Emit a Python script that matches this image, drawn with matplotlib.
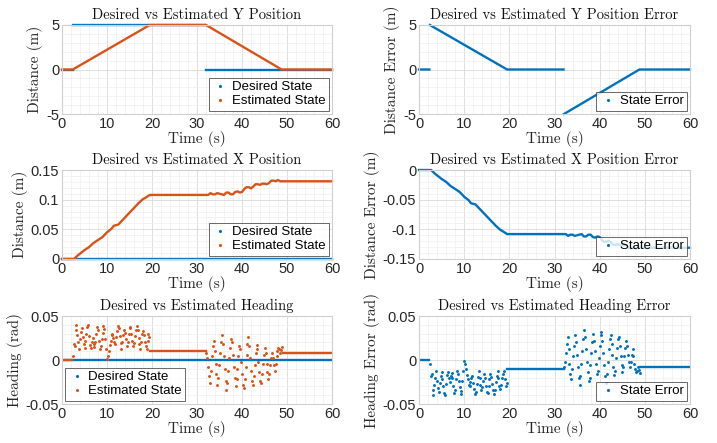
import numpy as np
import matplotlib
matplotlib.use("Agg")
import matplotlib.pyplot as plt
from matplotlib.lines import Line2D
from matplotlib.ticker import MultipleLocator, FixedLocator

plt.rcParams['axes.unicode_minus'] = False

BLUE = '#0072BD'
ORANGE = '#D95319'

# ---------------- data ----------------
# Y position (m)
y_des_t = [0, 2.4, np.nan, 2.4, 32.0, np.nan, 32.0, 60]
y_des_v = [0, 0, np.nan, 5, 5, np.nan, 0, 0]
y_est_t = [0, 2.4, 19.5, 32.0, 48.8, 60]
y_est_v = [0, 0, 5, 5, 0, 0]
y_err_t = [0, 2.3, np.nan, 2.4, 19.5, 32.0, np.nan, 32.1, 48.8, 60]
y_err_v = [0, 0, np.nan, 5, 0, 0, np.nan, -5, 0, 0]

# X position (m)
x_des_t = [0, 60]
x_des_v = [0, 0]
x_est_t = [0, 2.7, 3.5, 5, 6, 7, 8, 9, 10, 11, 11.5, 12.5, 13, 14, 15, 16, 17,
           18, 18.5, 19.5, 32, 32.5, 33, 33.5, 34, 34.5, 35, 35.5, 36, 36.5, 37,
           37.5, 38, 38.5, 39, 39.5, 40, 40.5, 41, 41.5, 42, 42.5, 43, 43.5, 44,
           44.5, 45, 45.5, 46, 46.5, 47, 47.5, 48, 48.5, 60]
x_est_v = [0, 0, 0.006, 0.015, 0.020, 0.027, 0.032, 0.037, 0.045, 0.051, 0.056,
           0.058, 0.062, 0.070, 0.078, 0.086, 0.094, 0.101, 0.103, 0.108, 0.108,
           0.108, 0.111, 0.109, 0.109, 0.111, 0.110, 0.109, 0.108, 0.112, 0.112,
           0.109, 0.109, 0.113, 0.114, 0.112, 0.113, 0.118, 0.121, 0.121, 0.119,
           0.122, 0.126, 0.126, 0.125, 0.127, 0.127, 0.126, 0.128, 0.132, 0.132,
           0.131, 0.133, 0.131, 0.131]

# Heading (rad)
h_des_t = [0, 60]
h_des_v = [0, 0]
h_flat_t = [0, 2.3, np.nan, 19.5, 32.0, np.nan, 49.0, 60]
h_flat_v = [0, 0, np.nan, 0.010, 0.010, np.nan, 0.008, 0.008]
h_seg1_start, h_seg1_end = 2.4, 19.4
h_seg1 = [0.004, 0.018, 0.016, 0.034, 0.040, 0.028, 0.020, 0.012, 0.024, 0.032,
          0.036, 0.026, 0.018, 0.014, 0.022, 0.030, 0.038, 0.040, 0.027, 0.017,
          0.014, 0.020, 0.025, 0.018, 0.015, 0.021, 0.030, 0.038, 0.034, 0.022,
          0.013, 0.016, 0.024, 0.031, 0.039, 0.035, 0.024, 0.012, 0.001, 0.004,
          0.010, 0.017, 0.022, 0.028, 0.030, 0.025, 0.021, 0.018, 0.026, 0.033,
          0.039, 0.036, 0.027, 0.019, 0.013, 0.020, 0.028, 0.034, 0.031, 0.024,
          0.016, 0.021, 0.029, 0.036, 0.038, 0.030, 0.022, 0.016, 0.019, 0.027,
          0.034, 0.039, 0.034, 0.025, 0.018, 0.012, 0.020, 0.029, 0.033, 0.028,
          0.021, 0.016, 0.012, 0.022, 0.030, 0.026]
h_seg2_start, h_seg2_end = 32.1, 48.9
h_seg2 = [0.008, 0.002, -0.008, -0.018, -0.026, -0.012, 0.004, 0.016, 0.022, 0.010,
          -0.004, -0.016, -0.028, -0.020, -0.006, 0.008, 0.020, 0.028, 0.018, 0.004,
          -0.010, -0.024, -0.034, -0.026, -0.012, 0.002, 0.014, 0.024, 0.020, 0.006,
          -0.008, -0.020, -0.030, -0.022, -0.010, 0.004, 0.016, 0.012, -0.002, -0.016,
          -0.028, -0.032, -0.022, -0.008, 0.006, 0.018, 0.026, 0.016, 0.002, -0.012,
          -0.024, -0.028, -0.018, -0.006, 0.008, 0.017, 0.012, -0.002, -0.014, -0.024,
          -0.026, -0.016, -0.004, 0.006, 0.014, 0.008, -0.004, -0.014, -0.022, -0.016,
          -0.006, 0.002, 0.008, 0.002, -0.006, -0.012, -0.004, 0.004, 0.010, 0.014,
          0.012, 0.008, 0.011, 0.015]

t1 = np.linspace(h_seg1_start, h_seg1_end, len(h_seg1))
t2 = np.linspace(h_seg2_start, h_seg2_end, len(h_seg2))

# ---------------- figure ----------------
fig = plt.figure(figsize=(7.17, 4.43), dpi=100)
W, H = 717, 443

def ax_at(l, t, r, b):
    return fig.add_axes([l / W, 1 - b / H, (r - l) / W, (b - t) / H])

TFONT = 'cmr10'
TICKF = 'Liberation Sans'

def style(ax, title, ylabel, ylim, major_y, minor_y, yticklabels=None):
    ax.set_xlim(0, 60)
    ax.set_ylim(*ylim)
    ax.xaxis.set_major_locator(MultipleLocator(10))
    ax.xaxis.set_minor_locator(MultipleLocator(2))
    ax.yaxis.set_major_locator(FixedLocator(major_y))
    ax.yaxis.set_minor_locator(MultipleLocator(minor_y))
    if yticklabels is not None:
        ax.set_yticklabels(yticklabels)
    ax.grid(which='major', color='#d9d9d9', linewidth=0.6)
    ax.grid(which='minor', color='#efefef', linewidth=0.5)
    ax.set_axisbelow(True)
    for s in ax.spines.values():
        s.set_color('#cfcfcf')
        s.set_linewidth(0.8)
    ax.tick_params(which='both', length=0, labelsize=10.5, colors='#262626', pad=2)
    for lab in ax.get_xticklabels() + ax.get_yticklabels():
        lab.set_fontfamily(TICKF)
    ax.set_title(title, fontfamily=TFONT, fontsize=10.5, pad=4, color='#111111')
    ax.set_xlabel('Time (s)', fontfamily=TFONT, fontsize=11, labelpad=0, color='#262626')
    ax.set_ylabel(ylabel, fontfamily=TFONT, fontsize=11, labelpad=2, color='#262626')

def legend(ax, labels, colors, loc):
    hs = [Line2D([], [], color=c, marker='.', markersize=2.5, linestyle='none') for c in colors]
    lg = ax.legend(hs, labels, loc=loc, prop={'family': TICKF, 'size': 9.5},
                   frameon=True, fancybox=False, borderpad=0.25, handlelength=1.2,
                   handletextpad=0.3, labelspacing=0.15, borderaxespad=0.25)
    lg.get_frame().set_edgecolor('#262626')
    lg.get_frame().set_linewidth(0.6)
    return lg

LW = 1.7

# Row 1 left: Y position
ax = ax_at(62, 25, 332, 114)
ax.plot(y_des_t, y_des_v, color=BLUE, lw=LW, clip_on=False)
ax.plot(y_est_t, y_est_v, color=ORANGE, lw=LW, clip_on=False)
style(ax, 'Desired vs Estimated Y Position', 'Distance (m)', (-5, 5), [-5, 0, 5], 1)
legend(ax, ['Desired State', 'Estimated State'], [BLUE, ORANGE], 'lower right')

# Row 1 right: Y error
ax = ax_at(419, 25, 690, 114)
ax.plot(y_err_t, y_err_v, color=BLUE, lw=LW, clip_on=False)
style(ax, 'Desired vs Estimated Y Position Error', 'Distance Error (m)', (-5, 5), [-5, 0, 5], 1)
legend(ax, ['State Error'], [BLUE], 'lower right')

# Row 2 left: X position
ax = ax_at(62, 170, 332, 259)
ax.plot(x_des_t, x_des_v, color=BLUE, lw=LW, clip_on=False)
ax.plot(x_est_t, x_est_v, color=ORANGE, lw=LW, clip_on=False)
style(ax, 'Desired vs Estimated X Position', 'Distance (m)', (0, 0.15),
      [0, 0.05, 0.1, 0.15], 0.01, ['0', '0.05', '0.1', '0.15'])
legend(ax, ['Desired State', 'Estimated State'], [BLUE, ORANGE], 'lower right')

# Row 2 right: X error
ax = ax_at(419, 170, 690, 259)
x_err_v = [d - e for d, e in zip(np.interp(x_est_t, x_des_t, x_des_v), x_est_v)]
ax.plot(x_est_t, x_err_v, color=BLUE, lw=LW, clip_on=False)
style(ax, 'Desired vs Estimated X Position Error', 'Distance Error (m)', (-0.15, 0),
      [-0.15, -0.1, -0.05, 0], 0.01, ['-0.15', '-0.1', '-0.05', '0'])
legend(ax, ['State Error'], [BLUE], 'lower right')

# Row 3 left: Heading
ax = ax_at(62, 316, 332, 404)
ax.plot(h_des_t, h_des_v, color=BLUE, lw=LW)
ax.plot(h_flat_t, h_flat_v, color=ORANGE, lw=LW)
ax.plot(t1, h_seg1, color=ORANGE, marker='.', markersize=2.2, linestyle='none')
ax.plot(t2, h_seg2, color=ORANGE, marker='.', markersize=2.2, linestyle='none')
style(ax, 'Desired vs Estimated Heading', 'Heading (rad)', (-0.05, 0.05),
      [-0.05, 0, 0.05], 0.01, ['-0.05', '0', '0.05'])
legend(ax, ['Desired State', 'Estimated State'], [BLUE, ORANGE], 'lower left')

# Row 3 right: Heading error
ax = ax_at(419, 316, 690, 404)
ax.plot(h_flat_t, [-v for v in h_flat_v], color=BLUE, lw=LW)
ax.plot(t1, [-v for v in h_seg1], color=BLUE, marker='.', markersize=2.2, linestyle='none')
ax.plot(t2, [-v for v in h_seg2], color=BLUE, marker='.', markersize=2.2, linestyle='none')
style(ax, 'Desired vs Estimated Heading Error', 'Heading Error (rad)', (-0.05, 0.05),
      [-0.05, 0, 0.05], 0.01, ['-0.05', '0', '0.05'])
legend(ax, ['State Error'], [BLUE], 'lower right')

fig.savefig('out.png', dpi=100)
